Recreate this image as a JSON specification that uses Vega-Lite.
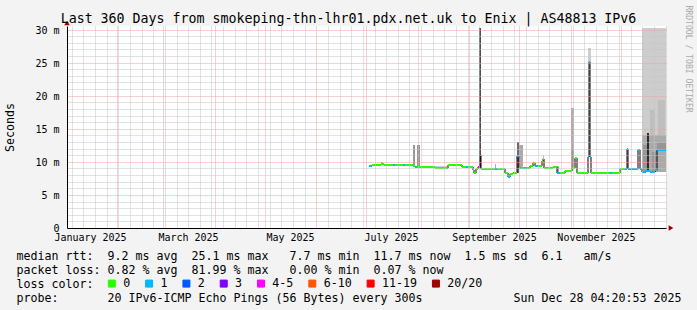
{
  "$schema": "https://vega.github.io/schema/vega-lite/v6.json",
  "width": 599,
  "height": 202,
  "autosize": {"type": "none"},
  "padding": {"left": 67, "top": 26, "right": 31, "bottom": 82},
  "background": "#f3f3f3",
  "title": {
    "text": "Last 360 Days from smokeping-thn-lhr01.pdx.net.uk to Enix | AS48813 IPv6",
    "font": "DejaVu Sans Mono",
    "fontSize": 13.29,
    "fontWeight": "normal",
    "color": "#000000",
    "anchor": "middle",
    "frame": "group",
    "dx": -18,
    "dy": 33,
    "offset": 2,
    "baseline": "alphabetic"
  },
  "config": {
    "view": {"fill": "white", "stroke": null},
    "font": "DejaVu Sans Mono"
  },
  "datasets": {
    "median": [
      {"t": "2025-07-02T16:00:00Z", "t2": "2025-07-04T12:00:00Z", "v": 9.4, "loss": "1"},
      {"t": "2025-07-04T12:00:00Z", "t2": "2025-07-09T21:00:00Z", "v": 9.45, "loss": "0"},
      {"t": "2025-07-09T21:00:00Z", "t2": "2025-07-11T17:00:00Z", "v": 9.6, "loss": "0"},
      {"t": "2025-07-11T17:00:00Z", "t2": "2025-07-17T03:00:00Z", "v": 9.5, "loss": "0"},
      {"t": "2025-07-17T03:00:00Z", "t2": "2025-07-18T07:00:00Z", "v": 9.5, "loss": "1"},
      {"t": "2025-07-18T07:00:00Z", "t2": "2025-07-23T03:00:00Z", "v": 9.5, "loss": "0"},
      {"t": "2025-07-23T03:00:00Z", "t2": "2025-07-24T08:00:00Z", "v": 9.5, "loss": "1"},
      {"t": "2025-07-24T08:00:00Z", "t2": "2025-07-29T03:00:00Z", "v": 9.5, "loss": "0"},
      {"t": "2025-07-29T03:00:00Z", "t2": "2025-07-30T08:00:00Z", "v": 9.35, "loss": "0"},
      {"t": "2025-07-30T08:00:00Z", "t2": "2025-07-31T13:00:00Z", "v": 9.2, "loss": "1"},
      {"t": "2025-07-31T13:00:00Z", "t2": "2025-08-11T08:00:00Z", "v": 9.2, "loss": "0"},
      {"t": "2025-08-11T08:00:00Z", "t2": "2025-08-18T13:00:00Z", "v": 9.05, "loss": "0"},
      {"t": "2025-08-18T13:00:00Z", "t2": "2025-08-19T04:00:00Z", "v": 9.05, "loss": "1"},
      {"t": "2025-08-19T04:00:00Z", "t2": "2025-08-27T14:00:00Z", "v": 9.45, "loss": "0"},
      {"t": "2025-08-27T14:00:00Z", "t2": "2025-08-29T23:00:00Z", "v": 9.25, "loss": "0"},
      {"t": "2025-08-29T23:00:00Z", "t2": "2025-08-31T04:00:00Z", "v": 9.2, "loss": "1"},
      {"t": "2025-08-31T04:00:00Z", "t2": "2025-09-03T05:00:00Z", "v": 9.2, "loss": "0"},
      {"t": "2025-09-03T05:00:00Z", "t2": "2025-09-03T19:00:00Z", "v": 8.7, "loss": "0"},
      {"t": "2025-09-03T19:00:00Z", "t2": "2025-09-04T23:00:00Z", "v": 8.3, "loss": "0"},
      {"t": "2025-09-04T23:00:00Z", "t2": "2025-09-06T05:00:00Z", "v": 8.9, "loss": "0"},
      {"t": "2025-09-06T05:00:00Z", "t2": "2025-09-07T09:00:00Z", "v": 9.15, "loss": "4-5"},
      {"t": "2025-09-07T09:00:00Z", "t2": "2025-09-07T23:00:00Z", "v": 11.0, "loss": "11-19"},
      {"t": "2025-09-07T23:00:00Z", "t2": "2025-09-16T10:00:00Z", "v": 8.95, "loss": "0"},
      {"t": "2025-09-16T10:00:00Z", "t2": "2025-09-17T15:00:00Z", "v": 8.95, "loss": "1"},
      {"t": "2025-09-17T15:00:00Z", "t2": "2025-09-22T10:00:00Z", "v": 8.95, "loss": "0"},
      {"t": "2025-09-22T10:00:00Z", "t2": "2025-09-24T05:00:00Z", "v": 8.3, "loss": "0"},
      {"t": "2025-09-24T05:00:00Z", "t2": "2025-09-25T10:00:00Z", "v": 7.7, "loss": "1"},
      {"t": "2025-09-25T10:00:00Z", "t2": "2025-09-27T05:00:00Z", "v": 8.15, "loss": "0"},
      {"t": "2025-09-27T05:00:00Z", "t2": "2025-09-29T15:00:00Z", "v": 8.3, "loss": "0"},
      {"t": "2025-09-29T15:00:00Z", "t2": "2025-09-30T20:00:00Z", "v": 10.9, "loss": "1"},
      {"t": "2025-09-30T20:00:00Z", "t2": "2025-10-02T01:00:00Z", "v": 9.1, "loss": "1"},
      {"t": "2025-10-02T01:00:00Z", "t2": "2025-10-03T20:00:00Z", "v": 9.1, "loss": "0"},
      {"t": "2025-10-03T20:00:00Z", "t2": "2025-10-05T15:00:00Z", "v": 9.1, "loss": "1"},
      {"t": "2025-10-05T15:00:00Z", "t2": "2025-10-07T11:00:00Z", "v": 9.1, "loss": "0"},
      {"t": "2025-10-07T11:00:00Z", "t2": "2025-10-09T06:00:00Z", "v": 9.3, "loss": "0"},
      {"t": "2025-10-09T06:00:00Z", "t2": "2025-10-10T11:00:00Z", "v": 9.8, "loss": "0"},
      {"t": "2025-10-10T11:00:00Z", "t2": "2025-10-12T06:00:00Z", "v": 9.3, "loss": "1"},
      {"t": "2025-10-12T06:00:00Z", "t2": "2025-10-14T16:00:00Z", "v": 9.35, "loss": "0"},
      {"t": "2025-10-14T16:00:00Z", "t2": "2025-10-15T06:00:00Z", "v": 10.1, "loss": "0"},
      {"t": "2025-10-15T06:00:00Z", "t2": "2025-10-15T21:00:00Z", "v": 10.5, "loss": "0"},
      {"t": "2025-10-15T21:00:00Z", "t2": "2025-10-21T06:00:00Z", "v": 9.0, "loss": "0"},
      {"t": "2025-10-21T06:00:00Z", "t2": "2025-10-23T16:00:00Z", "v": 9.2, "loss": "0"},
      {"t": "2025-10-23T16:00:00Z", "t2": "2025-10-25T11:00:00Z", "v": 8.35, "loss": "1"},
      {"t": "2025-10-25T11:00:00Z", "t2": "2025-10-28T12:00:00Z", "v": 8.3, "loss": "0"},
      {"t": "2025-10-28T12:00:00Z", "t2": "2025-11-01T17:00:00Z", "v": 8.6, "loss": "0"},
      {"t": "2025-11-01T17:00:00Z", "t2": "2025-11-03T12:00:00Z", "v": 9.0, "loss": "0"},
      {"t": "2025-11-03T12:00:00Z", "t2": "2025-11-04T17:00:00Z", "v": 10.6, "loss": "0"},
      {"t": "2025-11-04T17:00:00Z", "t2": "2025-11-11T07:00:00Z", "v": 8.36, "loss": "0"},
      {"t": "2025-11-11T07:00:00Z", "t2": "2025-11-11T22:00:00Z", "v": 10.7, "loss": "1"},
      {"t": "2025-11-11T22:00:00Z", "t2": "2025-11-12T12:00:00Z", "v": 25.1, "loss": "1"},
      {"t": "2025-11-12T12:00:00Z", "t2": "2025-11-13T02:00:00Z", "v": 10.7, "loss": "1"},
      {"t": "2025-11-13T02:00:00Z", "t2": "2025-11-24T12:00:00Z", "v": 8.36, "loss": "0"},
      {"t": "2025-11-24T12:00:00Z", "t2": "2025-11-25T18:00:00Z", "v": 8.36, "loss": "1"},
      {"t": "2025-11-25T18:00:00Z", "t2": "2025-11-30T13:00:00Z", "v": 8.36, "loss": "0"},
      {"t": "2025-11-30T13:00:00Z", "t2": "2025-12-03T13:00:00Z", "v": 8.96, "loss": "0"},
      {"t": "2025-12-03T13:00:00Z", "t2": "2025-12-04T18:00:00Z", "v": 8.96, "loss": "1"},
      {"t": "2025-12-04T18:00:00Z", "t2": "2025-12-05T08:00:00Z", "v": 11.9, "loss": "1"},
      {"t": "2025-12-05T08:00:00Z", "t2": "2025-12-11T08:00:00Z", "v": 8.96, "loss": "1"},
      {"t": "2025-12-11T08:00:00Z", "t2": "2025-12-12T13:00:00Z", "v": 11.8, "loss": "1"},
      {"t": "2025-12-12T13:00:00Z", "t2": "2025-12-13T18:00:00Z", "v": 8.9, "loss": "1"},
      {"t": "2025-12-13T18:00:00Z", "t2": "2025-12-16T04:00:00Z", "v": 8.5, "loss": "1"},
      {"t": "2025-12-16T04:00:00Z", "t2": "2025-12-18T13:00:00Z", "v": 8.6, "loss": "1"},
      {"t": "2025-12-18T13:00:00Z", "t2": "2025-12-21T14:00:00Z", "v": 8.4, "loss": "1"},
      {"t": "2025-12-21T14:00:00Z", "t2": "2025-12-22T18:00:00Z", "v": 8.7, "loss": "1"},
      {"t": "2025-12-22T18:00:00Z", "t2": "2025-12-28T04:20:00Z", "v": 11.85, "loss": "1"}
    ],
    "smoke": [
      {"t": "2025-07-09T21:00:00Z", "t2": "2025-07-11T05:00:00Z", "lo": 9.5, "hi": 10.0, "shade": "s4"},
      {"t": "2025-07-29T03:00:00Z", "t2": "2025-07-30T08:00:00Z", "lo": 9.35, "hi": 12.6, "shade": "s5"},
      {"t": "2025-07-31T13:00:00Z", "t2": "2025-08-02T08:00:00Z", "lo": 9.2, "hi": 12.5, "shade": "s5"},
      {"t": "2025-08-11T08:00:00Z", "t2": "2025-08-18T13:00:00Z", "lo": 9.05, "hi": 9.4, "shade": "s2"},
      {"t": "2025-09-07T02:00:00Z", "t2": "2025-09-07T23:00:00Z", "lo": 9.0, "hi": 30.2, "shade": "s7"},
      {"t": "2025-09-16T10:00:00Z", "t2": "2025-09-17T00:00:00Z", "lo": 8.95, "hi": 9.6, "shade": "s4"},
      {"t": "2025-09-29T12:00:00Z", "t2": "2025-09-30T13:00:00Z", "lo": 8.3, "hi": 13.0, "shade": "s6"},
      {"t": "2025-09-30T13:00:00Z", "t2": "2025-10-03T06:00:00Z", "lo": 9.1, "hi": 12.6, "shade": "s4"},
      {"t": "2025-10-14T23:00:00Z", "t2": "2025-10-15T21:00:00Z", "lo": 10.5, "hi": 11.0, "shade": "s2"},
      {"t": "2025-10-23T16:00:00Z", "t2": "2025-10-24T21:00:00Z", "lo": 8.3, "hi": 9.3, "shade": "s4"},
      {"t": "2025-10-31T19:00:00Z", "t2": "2025-11-02T21:00:00Z", "lo": 9.0, "hi": 18.1, "shade": "s4"},
      {"t": "2025-10-31T19:00:00Z", "t2": "2025-11-02T21:00:00Z", "lo": 9.0, "hi": 12.0, "shade": "s5"},
      {"t": "2025-11-11T14:00:00Z", "t2": "2025-11-13T02:00:00Z", "lo": 25.1, "hi": 27.2, "shade": "s2"},
      {"t": "2025-12-14T01:00:00Z", "t2": "2025-12-28T04:20:00Z", "lo": 8.4, "hi": 30.2, "shade": "s2"},
      {"t": "2025-12-18T13:00:00Z", "t2": "2025-12-21T14:00:00Z", "lo": 8.4, "hi": 17.8, "shade": "s3"},
      {"t": "2025-12-23T09:00:00Z", "t2": "2025-12-27T14:00:00Z", "lo": 11.85, "hi": 19.3, "shade": "s3"},
      {"t": "2025-12-14T01:00:00Z", "t2": "2025-12-28T04:20:00Z", "lo": 8.4, "hi": 14.0, "shade": "s4"},
      {"t": "2025-12-14T09:00:00Z", "t2": "2025-12-16T18:00:00Z", "lo": 8.4, "hi": 12.5, "shade": "s5"},
      {"t": "2025-12-19T18:00:00Z", "t2": "2025-12-22T04:00:00Z", "lo": 8.4, "hi": 11.5, "shade": "s5"},
      {"t": "2025-12-23T00:00:00Z", "t2": "2025-12-28T04:20:00Z", "lo": 11.85, "hi": 12.8, "shade": "s5"},
      {"t": "2025-12-17T01:00:00Z", "t2": "2025-12-17T23:00:00Z", "lo": 8.4, "hi": 14.3, "shade": "s8"}
    ]
  },
  "layer": [
    {
      "data": {"name": "smoke"},
      "mark": {"type": "rect", "clip": true},
      "encoding": {
        "x": {
          "field": "t",
          "type": "temporal",
          "scale": {
            "type": "utc",
            "round": true,
            "domain": [
              {"year": 2025, "month": 1, "date": 2, "hours": 4, "minutes": 20, "utc": true},
              {"year": 2025, "month": 12, "date": 28, "hours": 4, "minutes": 20, "utc": true}
            ]
          },
          "axis": {
            "values": [
              {"year": 2025, "month": 1, "date": 5, "utc": true},
              {"year": 2025, "month": 1, "date": 12, "utc": true},
              {"year": 2025, "month": 1, "date": 16, "utc": true},
              {"year": 2025, "month": 1, "date": 19, "utc": true},
              {"year": 2025, "month": 1, "date": 26, "utc": true},
              {"year": 2025, "month": 2, "date": 1, "utc": true},
              {"year": 2025, "month": 2, "date": 2, "utc": true},
              {"year": 2025, "month": 2, "date": 9, "utc": true},
              {"year": 2025, "month": 2, "date": 16, "utc": true},
              {"year": 2025, "month": 2, "date": 23, "utc": true},
              {"year": 2025, "month": 3, "date": 1, "utc": true},
              {"year": 2025, "month": 3, "date": 2, "utc": true},
              {"year": 2025, "month": 3, "date": 9, "utc": true},
              {"year": 2025, "month": 3, "date": 16, "utc": true},
              {"year": 2025, "month": 3, "date": 23, "utc": true},
              {"year": 2025, "month": 3, "date": 30, "utc": true},
              {"year": 2025, "month": 4, "date": 1, "utc": true},
              {"year": 2025, "month": 4, "date": 6, "utc": true},
              {"year": 2025, "month": 4, "date": 13, "utc": true},
              {"year": 2025, "month": 4, "date": 20, "utc": true},
              {"year": 2025, "month": 4, "date": 27, "utc": true},
              {"year": 2025, "month": 5, "date": 1, "utc": true},
              {"year": 2025, "month": 5, "date": 4, "utc": true},
              {"year": 2025, "month": 5, "date": 11, "utc": true},
              {"year": 2025, "month": 5, "date": 16, "utc": true},
              {"year": 2025, "month": 5, "date": 18, "utc": true},
              {"year": 2025, "month": 5, "date": 25, "utc": true},
              {"year": 2025, "month": 6, "date": 1, "utc": true},
              {"year": 2025, "month": 6, "date": 8, "utc": true},
              {"year": 2025, "month": 6, "date": 15, "utc": true},
              {"year": 2025, "month": 6, "date": 22, "utc": true},
              {"year": 2025, "month": 6, "date": 29, "utc": true},
              {"year": 2025, "month": 7, "date": 1, "utc": true},
              {"year": 2025, "month": 7, "date": 6, "utc": true},
              {"year": 2025, "month": 7, "date": 13, "utc": true},
              {"year": 2025, "month": 7, "date": 16, "utc": true},
              {"year": 2025, "month": 7, "date": 20, "utc": true},
              {"year": 2025, "month": 7, "date": 27, "utc": true},
              {"year": 2025, "month": 8, "date": 1, "utc": true},
              {"year": 2025, "month": 8, "date": 3, "utc": true},
              {"year": 2025, "month": 8, "date": 10, "utc": true},
              {"year": 2025, "month": 8, "date": 17, "utc": true},
              {"year": 2025, "month": 8, "date": 24, "utc": true},
              {"year": 2025, "month": 8, "date": 31, "utc": true},
              {"year": 2025, "month": 9, "date": 1, "utc": true},
              {"year": 2025, "month": 9, "date": 7, "utc": true},
              {"year": 2025, "month": 9, "date": 14, "utc": true},
              {"year": 2025, "month": 9, "date": 16, "utc": true},
              {"year": 2025, "month": 9, "date": 21, "utc": true},
              {"year": 2025, "month": 9, "date": 28, "utc": true},
              {"year": 2025, "month": 10, "date": 1, "utc": true},
              {"year": 2025, "month": 10, "date": 5, "utc": true},
              {"year": 2025, "month": 10, "date": 12, "utc": true},
              {"year": 2025, "month": 10, "date": 19, "utc": true},
              {"year": 2025, "month": 10, "date": 26, "utc": true},
              {"year": 2025, "month": 11, "date": 1, "utc": true},
              {"year": 2025, "month": 11, "date": 2, "utc": true},
              {"year": 2025, "month": 11, "date": 9, "utc": true},
              {"year": 2025, "month": 11, "date": 16, "utc": true},
              {"year": 2025, "month": 11, "date": 23, "utc": true},
              {"year": 2025, "month": 11, "date": 30, "utc": true},
              {"year": 2025, "month": 12, "date": 1, "utc": true},
              {"year": 2025, "month": 12, "date": 7, "utc": true},
              {"year": 2025, "month": 12, "date": 14, "utc": true},
              {"year": 2025, "month": 12, "date": 21, "utc": true},
              {"year": 2025, "month": 12, "date": 28, "utc": true}
            ],
            "labelExpr": "utcdate(datum.value) == 16 && utcmonth(datum.value) % 2 == 0 ? utcFormat(datum.value, '%B %Y') : ''",
            "grid": true,
            "gridDash": [1, 1],
            "gridWidth": 1,
            "gridColor": {"condition": {"test": "utcdate(datum.value) == 1", "value": "#f2a0a0"}, "value": "#c4c4c4"},
            "gridOpacity": {"condition": {"test": "utcdate(datum.value) != 1 && utcday(datum.value) != 0", "value": 0}, "value": 1},
            "ticks": false,
            "tickSize": 0,
            "domain": true,
            "domainColor": "#000000",
            "domainWidth": 1,
            "labelFont": "DejaVu Sans Mono",
            "labelFontSize": 10,
            "labelColor": "#000000",
            "labelPadding": 4.5,
            "labelOverlap": false,
            "labelFlush": false,
            "labelBound": false,
            "title": [
              "median rtt:\u00a0\u00a09.2 ms avg\u00a0\u00a025.1 ms max\u00a0\u00a0\u00a07.7 ms min\u00a0\u00a011.7 ms now\u00a0\u00a01.5 ms sd\u00a0\u00a06.1\u00a0\u00a0\u00a0am/s",
              "packet loss: 0.82 % avg\u00a0\u00a081.99 % max\u00a0\u00a0\u00a00.00 % min\u00a0\u00a00.07 % now",
              "loss color:",
              "probe:\u00a0\u00a0\u00a0\u00a0\u00a0\u00a0\u00a020 IPv6-ICMP Echo Pings (56 Bytes) every 300s\u00a0\u00a0\u00a0\u00a0\u00a0\u00a0\u00a0\u00a0\u00a0\u00a0\u00a0\u00a0\u00a0Sun Dec 28 04:20:53 2025"
            ],
            "titleX": -51,
            "titleY": 31,
            "titleAlign": "left",
            "titleAnchor": "start",
            "titleBaseline": "alphabetic",
            "titleLineHeight": 14,
            "titleFont": "DejaVu Sans Mono",
            "titleFontSize": 11.63,
            "titleFontWeight": "normal",
            "titleColor": "#000000",
            "zindex": 1
          }
        },
        "x2": {"field": "t2"},
        "y": {
          "field": "lo",
          "type": "quantitative",
          "scale": {"domain": [0, 30.53], "nice": false, "zero": false, "round": true},
          "axis": {
            "values": [0, 1, 2, 3, 4, 5, 6, 7, 8, 9, 10, 11, 12, 13, 14, 15, 16, 17, 18, 19, 20, 21, 22, 23, 24, 25, 26, 27, 28, 29, 30],
            "grid": true,
            "gridDash": [1, 1],
            "gridWidth": 1,
            "gridColor": {"condition": {"test": "datum.value % 5 == 0", "value": "#f2a0a0"}, "value": "#c4c4c4"},
            "ticks": false,
            "tickSize": 0,
            "domain": true,
            "domainColor": "#000000",
            "domainWidth": 1,
            "labelExpr": "datum.value % 5 == 0 ? (datum.value == 0 ? '0\u00a0\u00a0' : datum.value + ' m') : ''",
            "labelFont": "DejaVu Sans Mono",
            "labelFontSize": 10,
            "labelColor": "#000000",
            "labelPadding": 8,
            "labelOverlap": false,
            "labelFlush": false,
            "labelBound": false,
            "title": "Seconds",
            "titleFont": "DejaVu Sans Mono",
            "titleFontSize": 11.63,
            "titleFontWeight": "normal",
            "titleColor": "#000000",
            "titleAngle": -90,
            "titleX": -57,
            "titleY": 101,
            "titleAlign": "center",
            "titleBaseline": "middle",
            "zindex": 1
          }
        },
        "y2": {"field": "hi"},
        "fill": {
          "field": "shade",
          "type": "ordinal",
          "scale": {
            "domain": ["s1", "s2", "s3", "s4", "s5", "s6", "s7", "s8"],
            "range": ["#dcdcdc", "#cdcdcd", "#bebebe", "#aaaaaa", "#969696", "#6a6a6a", "#4d4d4d", "#2c2c2c"]
          },
          "legend": null
        }
      }
    },
    {
      "data": {"name": "median"},
      "mark": {"type": "line", "interpolate": "step-after", "color": "#000000", "strokeWidth": 1},
      "encoding": {
        "x": {"field": "t", "type": "temporal", "axis": null},
        "y": {
          "field": "v",
          "type": "quantitative",
          "axis": {
            "orient": "right",
            "grid": false,
            "labels": false,
            "ticks": false,
            "domain": false,
            "title": "RRDTOOL / TOBI OETIKER",
            "titleAngle": 90,
            "titleX": 21.5,
            "titleY": -21,
            "titleAlign": "left",
            "titleBaseline": "middle",
            "titleFont": "DejaVu Sans Mono",
            "titleFontSize": 8.1,
            "titleFontWeight": "normal",
            "titleColor": "#aaaaaa"
          }
        }
      }
    },
    {
      "data": {"name": "median"},
      "mark": {"type": "rule", "strokeWidth": 2},
      "encoding": {
        "x": {"field": "t", "type": "temporal", "axis": null},
        "x2": {"field": "t2"},
        "y": {"field": "v", "type": "quantitative", "axis": null},
        "color": {
          "field": "loss",
          "type": "nominal",
          "scale": {
            "domain": ["0", "1", "2", "3", "4-5", "6-10", "11-19", "20/20"],
            "range": ["#26ff00", "#00b8ff", "#0059ff", "#7e00ff", "#ff00ff", "#ff5500", "#ff0000", "#a00000"]
          },
          "legend": {
            "orient": "none",
            "legendX": 39,
            "legendY": 251.5,
            "direction": "horizontal",
            "title": null,
            "padding": 0,
            "symbolType": "square",
            "symbolSize": 49,
            "symbolStrokeWidth": 1,
            "labelFont": "DejaVu Sans Mono",
            "labelFontSize": 11.63,
            "labelColor": "#000000",
            "labelOffset": 5.5,
            "columnPadding": 12.3,
            "encode": {
              "symbols": {
                "update": {
                  "fill": {"scale": "color", "field": "value"},
                  "stroke": {"value": "#000000"},
                  "opacity": {"value": 1},
                  "fillOpacity": {"value": 1}
                }
              }
            }
          }
        }
      }
    },
    {
      "data": {"values": [{}]},
      "mark": {"type": "point", "shape": "triangle-up", "filled": true, "color": "#990000", "size": 30, "opacity": 1},
      "encoding": {
        "x": {"datum": {"year": 2025, "month": 1, "date": 2, "hours": 4, "minutes": 20, "utc": true}, "type": "temporal", "axis": null},
        "y": {"datum": 30.95, "type": "quantitative", "axis": null}
      }
    },
    {
      "data": {"values": [{}]},
      "mark": {"type": "point", "shape": "triangle-right", "filled": true, "color": "#990000", "size": 30, "opacity": 1},
      "encoding": {
        "x": {"datum": {"year": 2025, "month": 12, "date": 30, "hours": 22, "utc": true}, "type": "temporal", "axis": null},
        "y": {"datum": 0, "type": "quantitative", "axis": null}
      }
    }
  ],
  "resolve": {"axis": {"x": "independent", "y": "independent"}}
}
